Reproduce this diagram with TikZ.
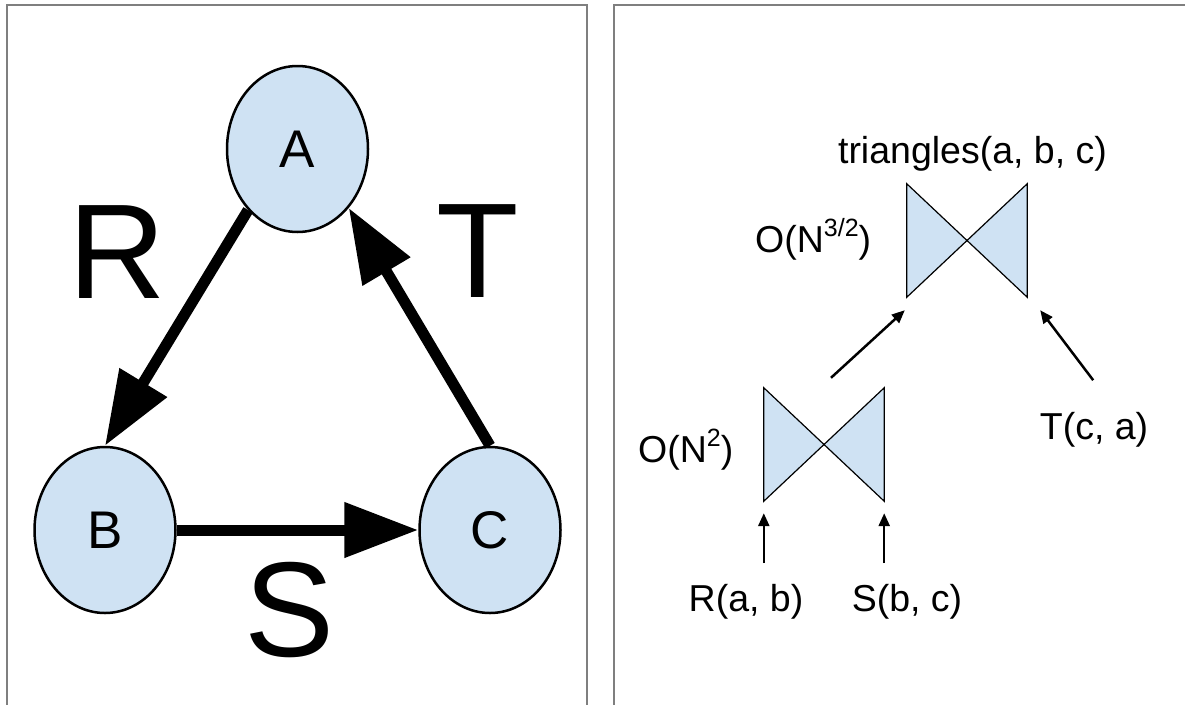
\documentclass[tikz,border=0pt]{standalone}
\usepackage{fontspec}
\setmainfont{Liberation Sans}
\usetikzlibrary{arrows.meta,shapes.geometric,calc}
\definecolor{nodeblue}{HTML}{CFE2F3}
\definecolor{panelgray}{HTML}{7F7F7F}
\newcommand\mysup[1]{\raisebox{0.42em}{\fontsize{25}{25}\selectfont #1}}
\begin{document}
\begin{tikzpicture}[x=1pt,y=-1pt,
  panel/.style={draw=panelgray,line width=2pt},
  vert/.style={ellipse,draw=black,line width=2.5pt,fill=nodeblue,minimum width=141pt,minimum height=166pt,inner sep=0pt,font=\fontsize{53}{60}\selectfont},
  big/.style={font=\fontsize{135}{140}\selectfont,inner sep=0pt},
  rel/.style={-{Triangle[length=74pt,width=53pt]},line width=11pt},
  joinbox/.style={minimum width=120pt,minimum height=113pt,inner sep=0pt},
  bow/.style={fill=nodeblue,draw=black,line width=1.2pt,line join=miter},
  lbl/.style={font=\fontsize{37.5}{45}\selectfont,inner sep=0pt,anchor=base},
  plan/.style={-{Triangle[length=13pt,width=11pt]},line width=2.5pt}
]
\useasboundingbox (0,0) rectangle (1185,704);
\clip (0,0) rectangle (1185,704);
% panels
\draw[panel] (7,720) -- (7,4.5) -- (587,4.5) -- (587,720);
\draw[panel] (613.5,720) -- (613.5,4.5) -- (1200,4.5);
% left graph
\node[vert] (A) at (297.5,149) {A};
\node[vert] (B) at (105,530) {B};
\node[vert] (C) at (490,530) {C};
\node[big] (Rl) at (117,252) {R};
\node[big] (Tl) at (478,251) {T};
\node[big] (Sl) at (290,610) {S};
\draw[rel] (A.231) -- (B.north);
\draw[rel] (B.east) -- (C.west);
\draw[rel] (C.north) -- (A.311);
% right plan
\node[joinbox] (J1) at (824,444.5) {};
\node[joinbox] (J2) at (967,240.5) {};
\foreach \j in {J1,J2}{
  \filldraw[bow] (\j.north west) -- (\j.south west) -- (\j.center) -- cycle;
  \filldraw[bow] (\j.north east) -- (\j.south east) -- (\j.center) -- cycle;
}
\node[lbl] (tri) at (972.5,163) {triangles(a, b, c)};
\node[lbl,anchor=base west] (o32) at (755,252) {O(N\mysup{3/2})};
\node[lbl,anchor=base west] (o2) at (638,462) {O(N\mysup{2})};
\node[lbl] (Tca) at (1094,439) {T(c, a)};
\node[lbl] (Rab) at (746,611) {R(a, b)};
\node[lbl] (Sbc) at (907,611) {S(b, c)};
\draw[plan] ($(J1.north)+(7,-10)$) -- ($(J2.south west)+(-2,13)$);
\draw[plan] ($(J2.south east)+(66,83)$) -- ($(J2.south east)+(13,13)$);
\draw[plan] ($(J1.south west)+(0,62)$) -- ($(J1.south west)+(0,12)$);
\draw[plan] ($(J1.south east)+(0,62)$) -- ($(J1.south east)+(0,12)$);
\end{tikzpicture}
\end{document}
